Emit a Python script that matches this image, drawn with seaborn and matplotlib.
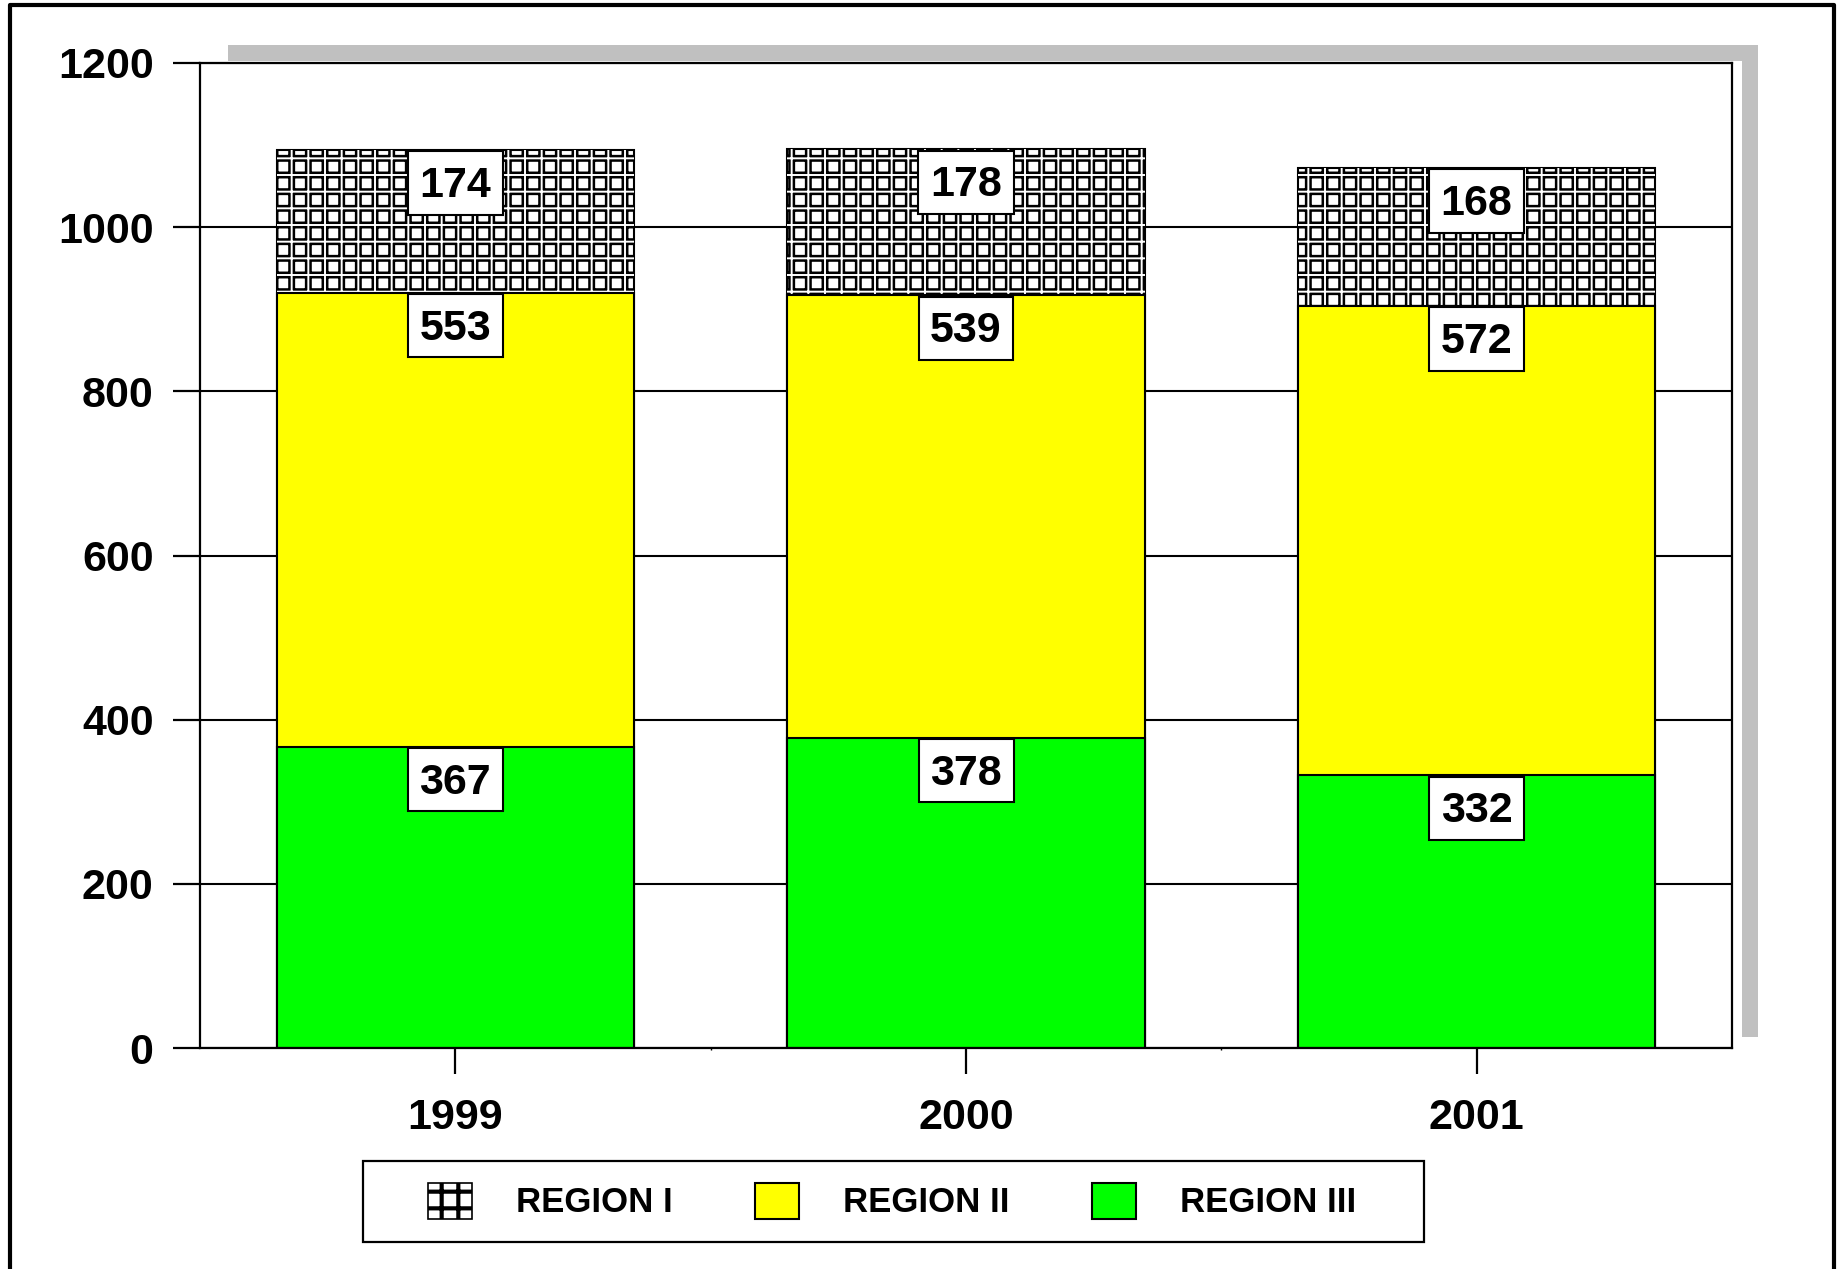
import matplotlib
matplotlib.use("Agg")
import matplotlib.pyplot as plt
import seaborn as sns
import pandas as pd
from matplotlib.patches import Rectangle, Patch
from matplotlib.lines import Line2D

# ---- data ----
years = ["1999", "2000", "2001"]
region_i = [174, 178, 168]
region_ii = [553, 539, 572]
region_iii = [367, 378, 332]
series_names = ["REGION I", "REGION II", "REGION III"]
y_ticks = [0, 200, 400, 600, 800, 1000, 1200]

GREEN = "#00FF00"
YELLOW = "#FFFF00"
GRAY = "#C0C0C0"

sns.set_style("white")
plt.rcParams['font.family'] = ['Liberation Sans', 'DejaVu Sans']
plt.rcParams['font.weight'] = 'bold'
plt.rcParams['text.color'] = 'black'
plt.rcParams['xtick.color'] = 'black'
plt.rcParams['ytick.color'] = 'black'
plt.rcParams['xtick.labelcolor'] = 'black'
plt.rcParams['ytick.labelcolor'] = 'black'

W, H = 1845, 1269
fig = plt.figure(figsize=(W / 100, H / 100), dpi=100)
fig.patch.set_facecolor("white")
ax = fig.add_axes([200 / W, 1 - 1048 / H, 1532 / W, 985 / H])

df = pd.DataFrame({"year": years, "i": region_i, "ii": region_ii, "iii": region_iii})
df["low"] = df["iii"]
df["mid"] = df["iii"] + df["ii"]
df["top"] = df["mid"] + df["i"]


def bars(col, color):
    sns.barplot(data=df, x="year", y=col, color=color, saturation=1,
                width=0.7, ax=ax, errorbar=None)
    return ax.containers[-1]


def set_hlw(p, lw):
    if hasattr(p, "set_hatch_linewidth"):
        p.set_hatch_linewidth(lw)


# Region I (hatched, thick black grid)
plt.rcParams['hatch.linewidth'] = 5.0
c_top = bars("top", "white")
for p in c_top:
    p.set_facecolor("white")
    p.set_edgecolor("black")
    p.set_linewidth(1.5)
    p.set_hatch("+")
    set_hlw(p, 5.0)

# white thin overlay to create double-line squares
plt.rcParams['hatch.linewidth'] = 1.4
c_ov = bars("top", "white")
for p in c_ov:
    p.set_facecolor("none")
    p.set_edgecolor("white")
    p.set_linewidth(0)
    p.set_hatch("+")
    set_hlw(p, 1.4)

c_mid = bars("mid", YELLOW)
for p in c_mid:
    p.set_facecolor(YELLOW)
    p.set_edgecolor("black")
    p.set_linewidth(1.5)
    p.set_hatch(None)

c_low = bars("low", GREEN)
for p in c_low:
    p.set_facecolor(GREEN)
    p.set_edgecolor("black")
    p.set_linewidth(1.5)
    p.set_hatch(None)

# value labels in white boxes at the top of each segment
for i in range(len(years)):
    for top_col, val_col in (("top", "i"), ("mid", "ii"), ("low", "iii")):
        txt = str(df[val_col][i])
        y = df[top_col][i]
        # box
        ax.annotate(txt, xy=(i, y), xytext=(0, -33),
                    textcoords="offset pixels", ha="center", va="center",
                    fontsize=31, fontweight="bold", color=(0, 0, 0, 0),
                    bbox=dict(boxstyle="square,pad=0.27", fc="white", ec="black", lw=1.5),
                    zorder=6)
        # text, centred on the glyphs
        ax.annotate(txt, xy=(i, y), xytext=(0, -36),
                    textcoords="offset pixels", ha="center", va="center",
                    fontsize=31, fontweight="bold", color="black", zorder=7)

ax.set_ylim(0, 1200)
ax.set_xlim(-0.5, 2.5)
ax.set_yticks(y_ticks)
ax.set_yticklabels([str(t) for t in y_ticks])
ax.set_xticks(range(len(years)))
ax.set_xticklabels(years)
ax.set_xticks([0.5, 1.5], minor=True)
ax.set_xlabel("")
ax.set_ylabel("")
ax.set_axisbelow(True)
ax.yaxis.grid(True, color="black", linewidth=1.5)
ax.xaxis.grid(False)
for s in ax.spines.values():
    s.set_visible(True)
    s.set_color("black")
    s.set_linewidth(1.6)

ax.tick_params(axis="y", which="major", direction="out", length=19.4, width=1.6,
               pad=14, labelsize=31, left=True, color="black", labelcolor="black")
ax.tick_params(axis="x", which="major", direction="out", length=18.7, width=1.6,
               pad=17, labelsize=31, bottom=True, color="black", labelcolor="black")
ax.tick_params(axis="x", which="minor", direction="out", length=1.5, width=1.0,
               bottom=True, color="black")
for lab in ax.get_xticklabels() + ax.get_yticklabels():
    lab.set_fontweight("bold")
    lab.set_color("black")

# legend
plt.rcParams['hatch.linewidth'] = 3.0
h1 = Patch(facecolor="white", edgecolor="black", hatch="+", linewidth=1.2)
set_hlw(h1, 3.0)
h2 = Patch(facecolor=YELLOW, edgecolor="black", linewidth=1.5)
h3 = Patch(facecolor=GREEN, edgecolor="black", linewidth=1.5)
leg = fig.legend([h1, h2, h3], series_names, loc="center",
                 bbox_to_anchor=(892 / W, 1 - 1201 / H), ncol=3, frameon=False,
                 prop={"weight": "bold", "size": 25}, handlelength=1.27,
                 handleheight=1.21, handletextpad=1.27, columnspacing=2.37)
for t in leg.get_texts():
    t.set_color("black")
fig.add_artist(Rectangle((363 / W, 1 - 1242 / H), (1424 - 363) / W, (1242 - 1161) / H,
                         transform=fig.transFigure, fill=False, ec="black", lw=1.6))

# gray shadow frame of the plot area
fig.add_artist(Rectangle((228 / W, 1 - 61 / H), (1758 - 228) / W, 16 / H,
                         transform=fig.transFigure, fc=GRAY, ec="none", zorder=-1))
fig.add_artist(Rectangle((1742 / W, 1 - 1037 / H), 16 / W, (1037 - 45) / H,
                         transform=fig.transFigure, fc=GRAY, ec="none", zorder=-1))

# outer border (top, left, right)
bx = [10 / W, 10 / W, 1834 / W, 1834 / W]
by = [0, 1 - 5 / H, 1 - 5 / H, 0]
fig.add_artist(Line2D(bx, by, transform=fig.transFigure, color="black", lw=3.0))

fig.savefig("out.png", dpi=100)
